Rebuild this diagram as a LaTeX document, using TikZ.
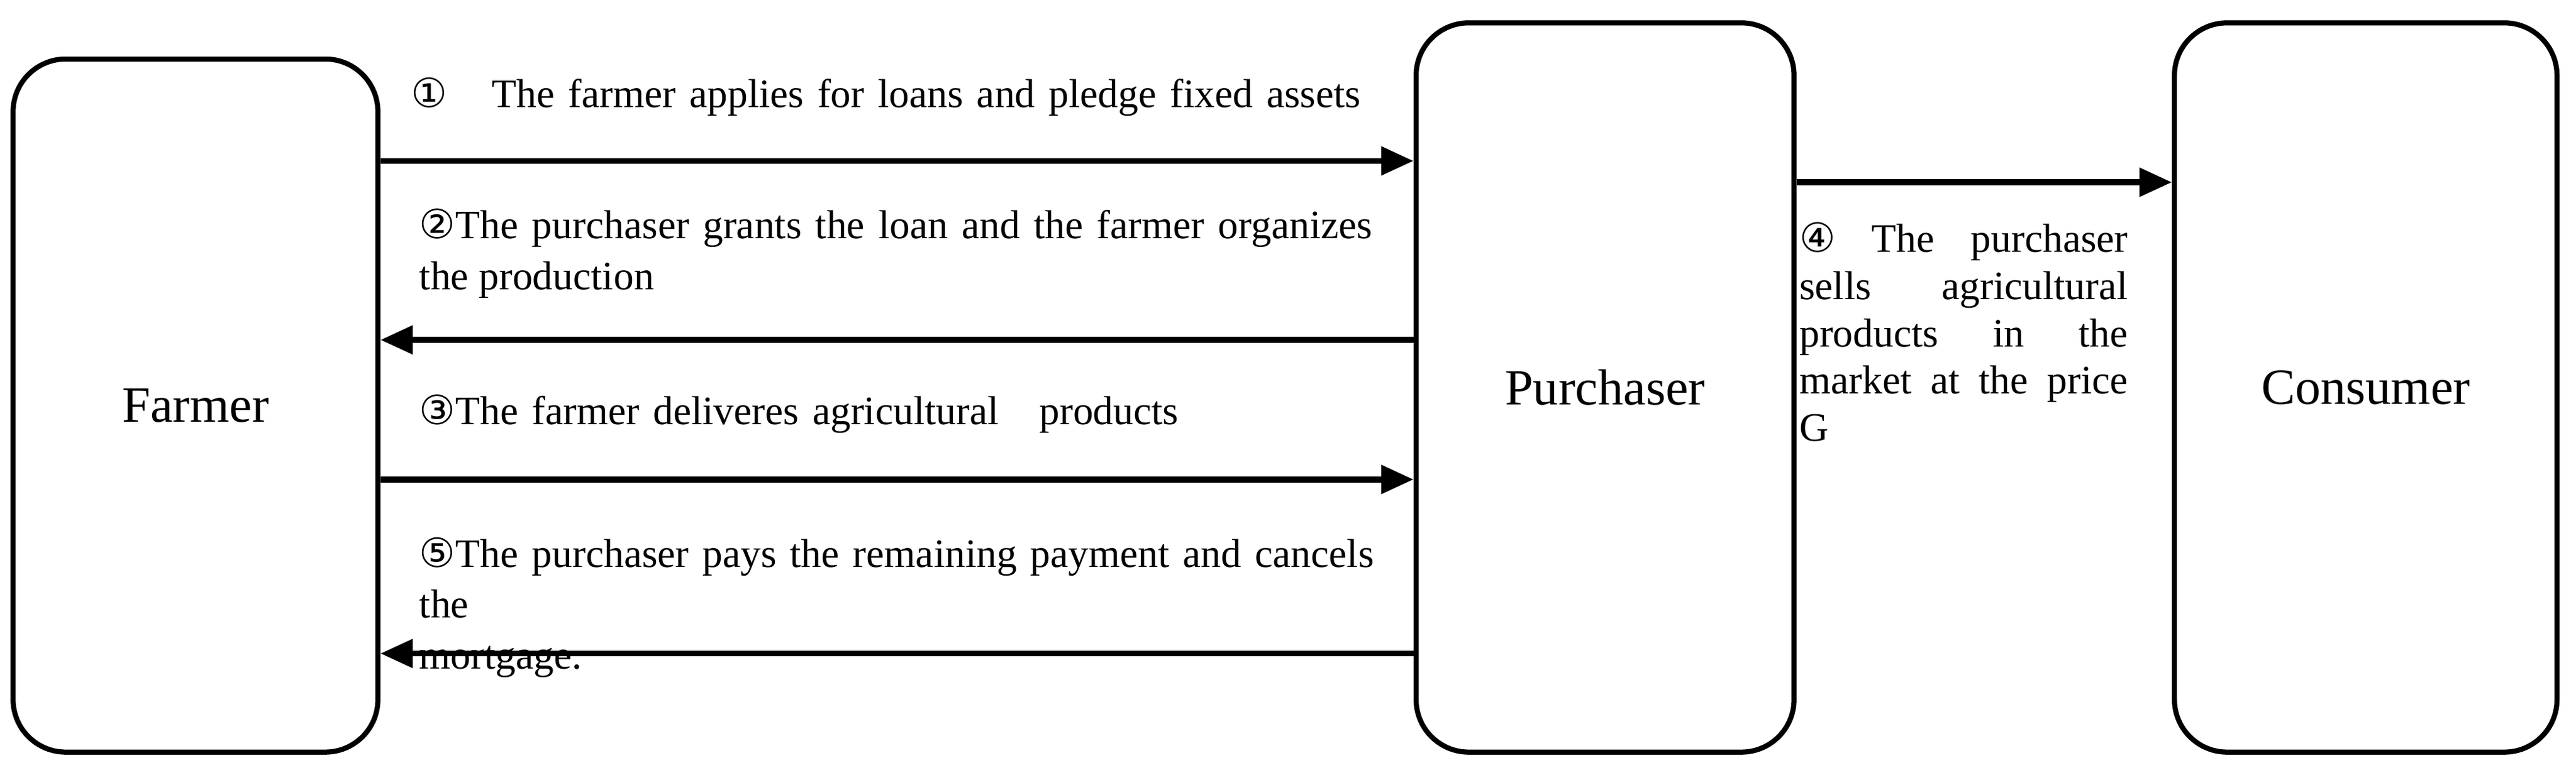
\documentclass[tikz,border=0pt]{standalone}
\usepackage{fontspec}
\setmainfont{Liberation Serif}
\newfontfamily\cnumfont{DejaVu Sans}
\newcommand{\cnum}[1]{{\cnumfont #1}}
\usetikzlibrary{positioning,arrows.meta}

\tikzset{
  party/.style={draw, line width=2.2pt, rounded corners=0.8cm, font=\fontsize{22}{26}\selectfont},
  flow/.style={line width=2.6pt, -{Triangle[length=14pt,width=12pt]}},
  lab/.style={font=\fontsize{17.5}{22}\selectfont, align=justify, inner sep=0pt, anchor=north west}
}

\begin{document}
\begin{tikzpicture}[x=0.025cm, y=-0.025cm]
    \useasboundingbox (0,0) rectangle (1568,475);
    \node (farmer) [party, minimum width=5.55cm, minimum height=10.55cm] at (119,247) {Farmer};
    \node (purchaser) [party, minimum width=5.75cm, minimum height=11.1cm] at (977,236) {Purchaser};
    \node (consumer) [party, minimum width=5.82cm, minimum height=11.1cm] at (1440,236) {Consumer};

    \coordinate (y1) at (0,98);
    \coordinate (y2) at (0,207);
    \coordinate (y3) at (0,292);
    \coordinate (y5) at (0,398);
    \coordinate (y4) at (0,111);

    \draw[flow] (farmer.east |- y1) -- (purchaser.west |- y1);
    \draw[flow] (purchaser.west |- y2) -- (farmer.east |- y2);
    \draw[flow] (farmer.east |- y3) -- (purchaser.west |- y3);
    \draw[flow] (purchaser.west |- y5) -- (farmer.east |- y5);
    \draw[flow] (purchaser.east |- y4) -- (consumer.west |- y4);

    \node (lab1) [lab, text width=14.7cm, align=left] at (250,47) {\cnum{①}\hspace{1.1em}The farmer applies for loans and pledge fixed assets};
    \node (lab2) [lab, text width=14.5cm] at (255,127) {\cnum{②}The purchaser grants the loan and the farmer organizes the production};
    \node (lab3) [lab, text width=14.5cm, align=left] at (255,240) {\cnum{③}The farmer deliveres agricultural\hspace{1em}products};
    \node (lab5) [lab, text width=14.6cm, align=left] at (255,327) {\cnum{⑤}The purchaser pays the remaining payment and cancels the\\mortgage.};
    \node (lab4) [lab, text width=5cm, align=left, font=\fontsize{17.5}{20.5}\selectfont] at (1095,135)
      {\cnum{④}\hfill The\hfill purchaser\\ sells\hfill agricultural\\ products\hfill in\hfill the\\ market\hfill at\hfill the\hfill price\\ G};
\end{tikzpicture}
\end{document}
